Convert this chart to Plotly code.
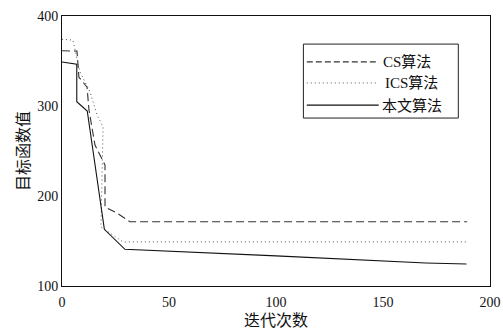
import plotly.graph_objects as go

# Convergence curves: iteration number vs. objective value
cs_iter = [0, 5.1, 7.0, 7.9, 11.7, 12.6, 15.4, 20.1, 20.1, 25.7, 31.8, 189.3]
cs_obj = [361.4, 361.4, 361, 332, 321, 295.6, 256.7, 234.4, 187.8, 181, 171.4, 171.4]

ics_iter = [0, 5.1, 7.9, 8.4, 13.1, 16.4, 19.2, 18.2, 28.5, 189.3]
ics_obj = [374.1, 373.3, 343, 338, 315.6, 290, 276.7, 165.6, 149, 149]

ours_iter = [0, 6.9, 6.9, 11.8, 19.8, 29.4, 100, 170, 189]
ours_obj = [348.9, 346.3, 304.8, 294.4, 163, 140.8, 133.5, 125.6, 124.4]

series_names = ["CS算法", "ICS算法", "本文算法"]
x_ticks = [0, 50, 100, 150, 200]
y_ticks = [100, 200, 300, 400]

FONT = "Liberation Serif, Times New Roman, Noto Sans CJK SC, serif"

fig = go.Figure()
fig.add_trace(go.Scatter(x=cs_iter, y=cs_obj, mode="lines", name=series_names[0],
                         line=dict(color="#333333", width=1.1, dash="8px,4px")))
fig.add_trace(go.Scatter(x=ics_iter, y=ics_obj, mode="lines", name=series_names[1],
                         line=dict(color="#555555", width=1, dash="1px,3px")))
fig.add_trace(go.Scatter(x=ours_iter, y=ours_obj, mode="lines", name=series_names[2],
                         line=dict(color="#111111", width=1.1)))

# Hand-drawn legend box in the upper-right corner
lx0, lx1 = 0.564, 0.926
ly0, ly1 = 0.622, 0.896
fig.add_shape(type="rect", xref="paper", yref="paper", x0=lx0, x1=lx1, y0=ly0, y1=ly1,
              line=dict(color="#222222", width=1), fillcolor="white", layer="above")
rows = [0.830, 0.752, 0.670]
text_x = [0.745, 0.750, 0.742]
styles = [dict(color="#333333", width=1.1, dash="6px,3px"),
          dict(color="#555555", width=1, dash="1px,3px"),
          dict(color="#111111", width=1.1)]
for name, yy, tx, st in zip(series_names, rows, text_x, styles):
    fig.add_shape(type="line", xref="paper", yref="paper", x0=0.572, x1=0.74, y0=yy, y1=yy,
                  line=st, layer="above")
    fig.add_annotation(xref="paper", yref="paper", x=tx, y=yy, text=name, showarrow=False,
                       xanchor="left", yanchor="middle",
                       font=dict(family=FONT, size=15, color="#111111"))

axis_common = dict(showline=True, linecolor="#111111", linewidth=1, mirror=True,
                   showgrid=False, zeroline=False, ticks="", automargin=False,
                   tickfont=dict(family=FONT, size=14, color="#111111"))

fig.update_xaxes(range=[0, 200], tickvals=x_ticks, ticklabelstandoff=3,
                 title=dict(text="迭代次数", font=dict(family=FONT, size=16, color="#111111"),
                            standoff=6),
                 **axis_common)
fig.update_yaxes(range=[100, 400], tickvals=y_ticks,
                 title=dict(text="目标函数值", font=dict(family=FONT, size=16, color="#111111"),
                            standoff=3),
                 **axis_common)

fig.update_layout(width=503, height=334, showlegend=False,
                  margin=dict(l=62, r=13, t=16, b=48),
                  paper_bgcolor="white", plot_bgcolor="white")

fig.write_html("out.html")
